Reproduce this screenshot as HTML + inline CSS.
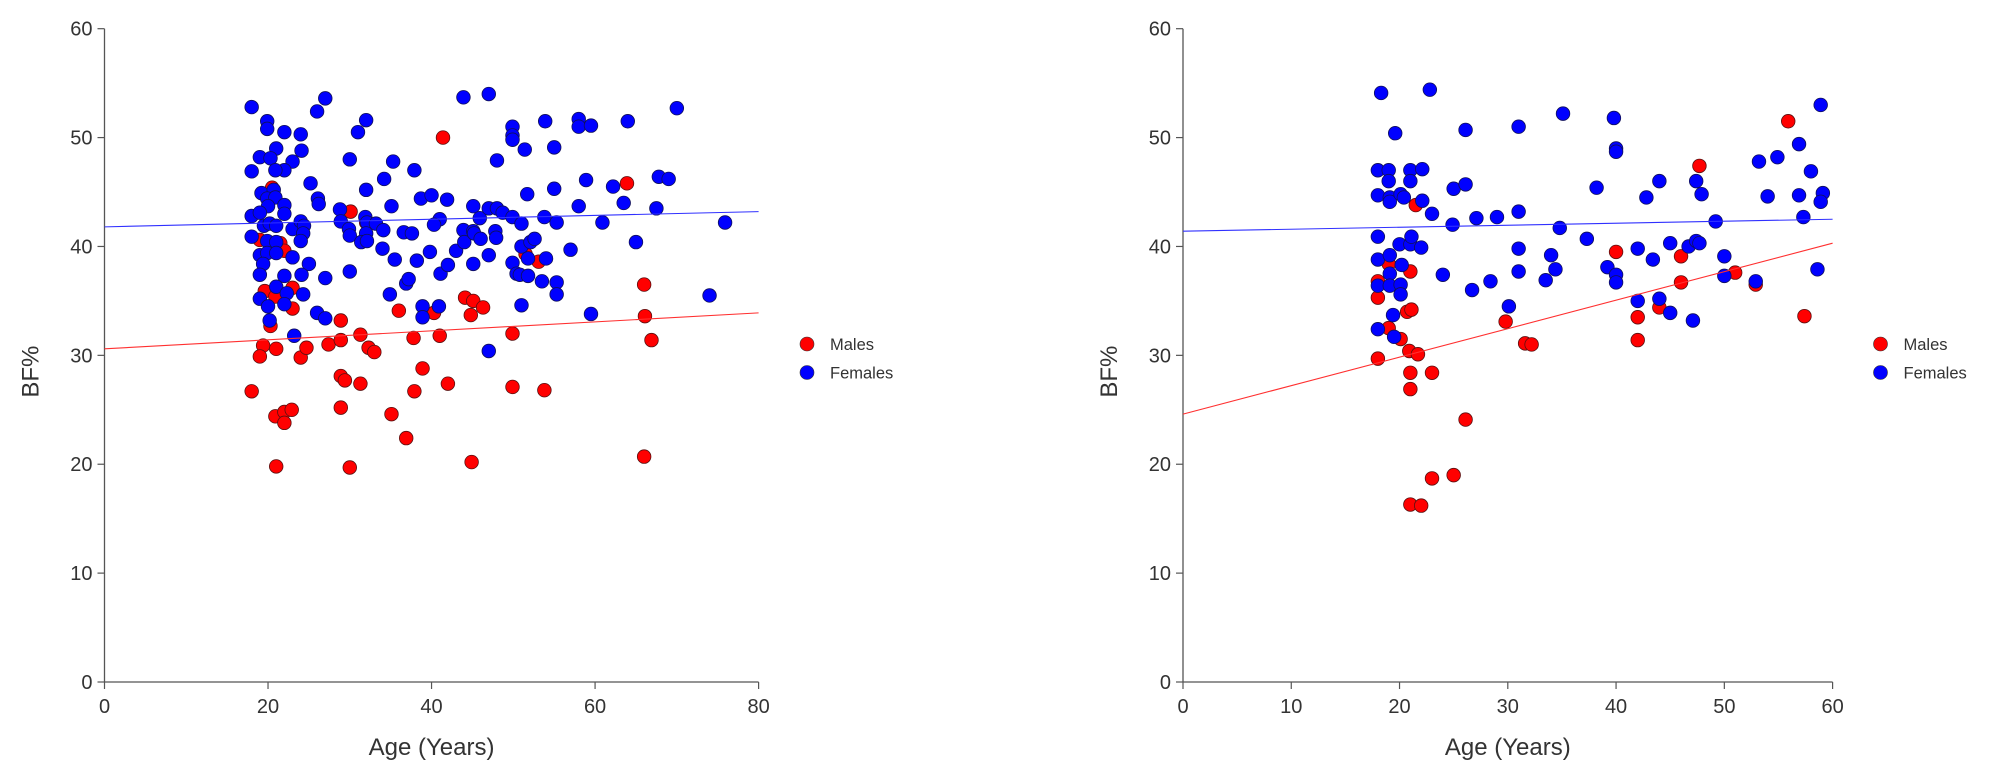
<!DOCTYPE html>
<html><head><meta charset="utf-8"><style>
html,body{margin:0;padding:0;background:#fff;}
svg{display:block;font-family:"Liberation Sans",Arial,sans-serif;}
</style></head><body>
<svg id="chart" width="1990" height="781" viewBox="0 0 1990 781"></svg>
<script>
// ---------- Left panel data ----------
const leftMaleAge=[41.4,63.9,20.5,30.1,32,19,21.5,22,51.5,53.1,19.6,20.9,23,23,20.3,28.9,36,40.3,44.1,45.1,44.8,46.3,66,66.1,66.9,19.4,19,21,24,24.7,27.4,28.9,31.3,32.3,33,37.8,41,49.9,38.9,18,28.9,29.4,31.3,37.9,42,49.9,53.8,20.9,22,22,22.9,28.9,35.1,36.9,66,21,30,44.9];
const leftMaleBf=[50,45.8,45.4,43.2,42.2,40.6,40.3,39.6,39.3,38.6,35.9,35.4,36.2,34.3,32.7,33.2,34.1,33.9,35.3,35,33.7,34.4,36.5,33.6,31.4,30.9,29.9,30.6,29.8,30.7,31,31.4,31.9,30.7,30.3,31.6,31.8,32,28.8,26.7,28.1,27.7,27.4,26.7,27.4,27.1,26.8,24.4,24.8,23.8,25,25.2,24.6,22.4,20.7,19.8,19.7,20.2];
const leftFemaleAge=[18,18,18,18,19.9,19.9,19,21,20.3,22,24,24.1,23,22,20.9,26,27,30,31,32,25.2,26.1,26.2,19.2,20.7,19.9,20.9,22,22,20,19,19.5,20.2,21,23,24,24.4,24.3,24,19.9,21,19,19.9,21,19.4,19,22,23,25,24.1,27,21,22.3,24.3,19,20,22,20.2,23.2,26,27,28.8,28.9,29.9,30,30,31.9,32.1,33.2,32,32,31.4,32.1,34.1,34.2,35.3,35.1,34,35.5,36.6,37.6,37.9,38.7,40,41,40.3,38.2,39.8,36.9,37.2,34.9,38.9,38.9,40.9,41.1,41.9,42,43,43.9,47,43.9,44,45.1,45.1,45.2,45.9,46,45.1,47,47,47.8,47.9,48,47,48,48.7,49.9,49.9,49.9,49.9,49.9,50.4,51,51,51.4,51.7,51.8,50.8,51.8,51,52.1,52.6,53.9,53.8,54,53.5,55,55,55.3,55.3,55.3,57,58,58,58,59.5,58.9,59.5,60.9,62.2,63.5,64,65,67.5,67.8,69,70,75.9,74];
const leftFemaleBf=[52.8,46.9,42.8,40.9,51.5,50.8,48.2,49,48.1,50.5,50.3,48.8,47.8,47,47,52.4,53.6,48,50.5,51.6,45.8,44.4,43.9,44.9,45.2,44.4,44.5,43.8,43,43.7,43.1,41.9,42.1,41.9,41.6,42.3,41.9,41.2,40.5,40.5,40.4,39.2,39.4,39.4,38.4,37.4,37.3,39,38.4,37.4,37.1,36.3,35.7,35.6,35.2,34.5,34.7,33.2,31.8,33.9,33.4,43.4,42.3,41.6,41,37.7,42.7,42.2,42.1,45.2,41.2,40.4,40.5,41.5,46.2,47.8,43.7,39.8,38.8,41.3,41.2,47,44.4,44.7,42.5,42,38.7,39.5,36.6,37,35.6,34.5,33.5,34.5,37.5,44.3,38.3,39.6,53.7,54,41.5,40.4,41.4,43.7,41.2,42.6,40.7,38.4,39.2,30.4,41.4,40.8,47.9,43.5,43.5,43.1,51,50.2,49.8,42.7,38.5,37.5,42.1,40,48.9,44.8,38.9,37.4,37.3,34.6,40.4,40.7,51.5,42.7,38.9,36.8,49.1,45.3,42.2,36.7,35.6,39.7,51.7,51,43.7,51.1,46.1,33.8,42.2,45.5,44,51.5,40.4,43.5,46.4,46.2,52.7,42.2,35.5];
const leftFitMale=[30.6,33.9];   // BF% at x-min and x-max
const leftFitFemale=[41.8,43.2];
// ---------- Right panel data ----------
const rightMaleAge=[21.5,19,21,18,18,20.7,21.1,19,20.1,20.9,21.7,18,21,23,21,26.1,23,25,21,22,29.8,31.6,32.2,55.9,47.7,40,46,46,51,52.9,44,42,42,57.4];
const rightMaleBf=[43.8,38.4,37.7,36.8,35.3,34,34.2,32.5,31.5,30.4,30.1,29.7,28.4,28.4,26.9,24.1,18.7,19,16.3,16.2,33.1,31.1,31,51.5,47.4,39.5,39.1,36.7,37.6,36.5,34.4,33.5,31.4,33.6];
const rightFemaleAge=[18.3,22.8,19.6,26.1,31,35.1,18,19,19,21,21,22.1,18,19.1,19.1,20.1,20.4,22.1,23,25,26.1,24.9,27.1,29,31,34.8,18,20,21,21.1,22,18,19.1,20.2,19.1,18,19.1,20.1,20.1,19.4,18,19.5,24,26.7,28.4,30.1,31,31,33.5,34,34.4,39.8,40,40,38.2,44,42.8,47.4,47.9,53.2,54.9,56.9,58,58.9,54,56.9,59.1,58.9,49.2,57.3,37.3,42,43.4,45,46.7,47.4,47.7,50,39.2,40,40,50,52.9,58.6,42,44,45,47.1];
const rightFemaleBf=[54.1,54.4,50.4,50.7,51,52.2,47,47,46,47,46,47.1,44.7,44.5,44.1,44.8,44.5,44.2,43,45.3,45.7,42,42.6,42.7,43.2,41.7,40.9,40.2,40.2,40.9,39.9,38.8,39.2,38.3,37.5,36.4,36.4,36.5,35.6,33.7,32.4,31.7,37.4,36,36.8,34.5,39.8,37.7,36.9,39.2,37.9,51.8,49,48.7,45.4,46,44.5,46,44.8,47.8,48.2,49.4,46.9,53,44.6,44.7,44.9,44.1,42.3,42.7,40.7,39.8,38.8,40.3,40,40.5,40.3,39.1,38.1,37.4,36.7,37.3,36.8,37.9,35,35.2,33.9,33.2];
const rightFitMale=[24.6,40.3];
const rightFitFemale=[41.4,42.5];
// ---------- Axis configuration ----------
const yTicks=[0,10,20,30,40,50,60];
const leftXTicks=[0,20,40,60,80];
const rightXTicks=[0,10,20,30,40,50,60];
const legendLabels=["Males","Females"];

const NS="http://www.w3.org/2000/svg";
const svg=document.getElementById('chart');
function mk(tag,attrs,parent){const e=document.createElementNS(NS,tag);for(const k in attrs)e.setAttribute(k,attrs[k]);(parent||svg).appendChild(e);return e;}

const Y0=682, Y60=28.7;
function yScale(v){return Y0-(v/60)*(Y0-Y60);}

function panel(name,x0px,x1px,xmax,xTicks,mA,mB,fA,fB,fitM,fitF,legX){
  const g=mk('g',{});
  
  
  const xs=v=>x0px+(v/xmax)*(x1px-x0px);
  // axes
  const ya=mk('line',{x1:x0px,y1:Y60,x2:x0px,y2:Y0,stroke:'#555','stroke-width':1.3},g);
  
  
  const xa=mk('line',{x1:x0px,y1:Y0,x2:x1px,y2:Y0,stroke:'#555','stroke-width':1.3},g);
  
  
  yTicks.forEach(t=>{
    const y=yScale(t);
    mk('line',{x1:x0px-7,y1:y,x2:x0px,y2:y,stroke:'#555','stroke-width':1.2},g);
    const tx=mk('text',{x:x0px-12,y:y+7,'text-anchor':'end','font-size':20,fill:'#333'},g);
    tx.textContent=t;
    
    
  });
  xTicks.forEach(t=>{
    const x=xs(t);
    mk('line',{x1:x,y1:Y0,x2:x,y2:Y0+7,stroke:'#555','stroke-width':1.2},g);
    const tx=mk('text',{x:x,y:Y0+31,'text-anchor':'middle','font-size':20,fill:'#333'},g);
    tx.textContent=t;
    
    
  });
  const xt=mk('text',{x:(x0px+x1px)/2,y:755,'text-anchor':'middle','font-size':24,fill:'#333'},g);
  xt.textContent='Age (Years)';
  
  
  const yt=mk('text',{x:0,y:0,'text-anchor':'middle','font-size':24,fill:'#333',transform:`translate(${x0px-66},${yScale(28.5)}) rotate(-90)`},g);
  yt.textContent='BF%';
  
  
  // points
  for(let i=0;i<mA.length;i++){
    const c=mk('circle',{cx:xs(mA[i]),cy:yScale(mB[i]),r:6.8,fill:'#ff0000',stroke:'#5a1010','stroke-width':0.8},g);
    
    
  }
  for(let i=0;i<fA.length;i++){
    const c=mk('circle',{cx:xs(fA[i]),cy:yScale(fB[i]),r:6.8,fill:'#0000ff',stroke:'#10105a','stroke-width':0.8},g);
    
    
  }
  // fit lines
  const lm=mk('line',{x1:xs(0),y1:yScale(fitM[0]),x2:xs(xmax),y2:yScale(fitM[1]),stroke:'#ff3030','stroke-width':1.1},g);
  
  
  const lf=mk('line',{x1:xs(0),y1:yScale(fitF[0]),x2:xs(xmax),y2:yScale(fitF[1]),stroke:'#3030ff','stroke-width':1.1},g);
  
  
  // legend
  const cols=['#ff0000','#0000ff'];
  legendLabels.forEach((lab,i)=>{
    const ly=344+i*28.5;
    const d=mk('circle',{cx:legX,cy:ly,r:7,fill:cols[i],stroke:'#333','stroke-width':0.6},g);
    
    
    const t=mk('text',{x:legX+23,y:ly+6,'font-size':16.5,fill:'#333'},g);
    t.textContent=lab;
    
    
  });
}
panel('left',104.5,758.6,80,leftXTicks,leftMaleAge,leftMaleBf,leftFemaleAge,leftFemaleBf,leftFitMale,leftFitFemale,807);
panel('right',1183,1832.6,60,rightXTicks,rightMaleAge,rightMaleBf,rightFemaleAge,rightFemaleBf,rightFitMale,rightFitFemale,1880.5);
</script>
</body></html>
